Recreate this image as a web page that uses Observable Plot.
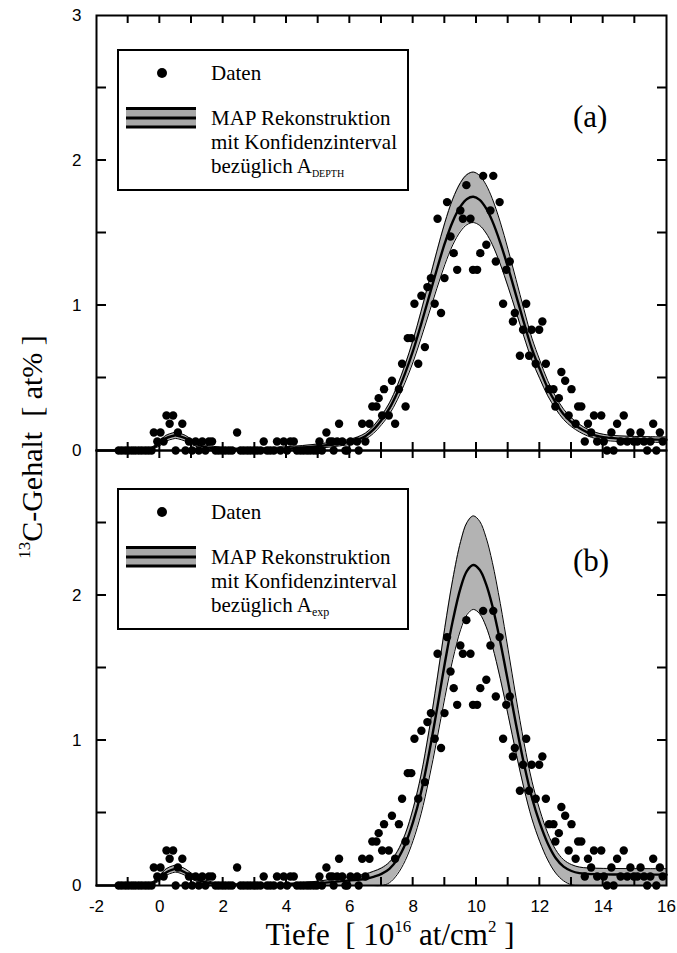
<!DOCTYPE html>
<html><head><meta charset="utf-8">
<script src="https://cdn.jsdelivr.net/npm/d3@7"></script>
<script src="https://cdn.jsdelivr.net/npm/@observablehq/plot@0.6"></script>
<style>
html,body{margin:0;padding:0;background:#fff;}
#wrap{position:relative;width:677px;height:953px;overflow:hidden;background:#fff;}
.serif{font-family:"Liberation Serif","Times New Roman",serif;}
</style></head><body><div id="wrap"></div>
<script>
// measured points (identical in both panels)
const dataX = [-1.30,-1.20,-1.09,-0.99,-0.88,-0.78,-0.67,-0.57,-0.46,-0.36,-0.26,-0.19,-0.08,0.02,0.12,0.21,0.31,0.42,0.50,0.57,0.71,0.81,0.92,1.02,1.13,1.23,1.34,1.44,1.55,1.65,1.76,1.86,1.97,2.07,2.18,2.28,2.44,2.55,2.65,2.76,2.86,2.97,3.07,3.18,3.28,3.39,3.49,3.60,3.70,3.81,3.91,4.02,4.12,4.23,4.33,4.44,4.54,4.65,4.75,4.86,4.96,5.04,5.12,5.26,5.37,5.45,5.49,5.60,5.66,5.76,5.86,5.92,6.02,6.23,6.28,6.39,6.49,6.62,6.71,6.84,6.91,7.02,7.08,7.23,7.33,7.43,7.55,7.65,7.76,7.83,7.94,8.04,8.16,8.26,8.37,8.45,8.56,8.68,8.77,8.88,8.99,9.07,9.18,9.28,9.39,9.49,9.57,9.68,9.81,9.89,10.02,10.12,10.21,10.31,10.44,10.53,10.61,10.73,10.84,10.94,11.05,11.15,11.21,11.37,11.47,11.57,11.66,11.74,11.87,11.98,12.08,12.19,12.29,12.43,12.49,12.60,12.68,12.80,12.91,13.00,13.13,13.21,13.31,13.42,13.52,13.62,13.71,13.81,13.94,14.02,14.12,14.26,14.33,14.44,14.55,14.65,14.76,14.86,14.97,15.08,15.18,15.29,15.39,15.49,15.58,15.68,15.79,15.88];
const dataY = [0,0,0,0,0,0,0,0,0,0,0,0.124,0.062,0.124,0.062,0.241,0.184,0.241,0,0.124,0.184,0,0.062,0,0.062,0,0.062,0,0.062,0.062,0,0,0,0,0,0,0.124,0,0,0,0,0,0,0,0.062,0,0,0,0.062,0,0.062,0,0.062,0.062,0,0,0,0,0,0,0,0.062,0,0.124,0.062,0.062,0,0.062,0.184,0.062,0,0,0.062,0.062,0,0.184,0.062,0.184,0.303,0.303,0.361,0.241,0.423,0.241,0.481,0.184,0.423,0.598,0.303,0.775,0.775,1.012,0.598,1.067,0.713,1.127,1.189,1.012,1.598,0.948,1.189,1.713,1.476,1.361,1.246,1.655,1.598,1.830,1.598,1.246,1.246,1.361,1.894,1.419,1.655,1.894,1.303,1.713,1.012,1.246,1.303,0.890,0.948,0.653,0.833,1.012,0.653,0.833,0.598,0.833,0.890,0.598,0.423,0.423,0.303,0.361,0.541,0.481,0.241,0.423,0.184,0.303,0.303,0.062,0.184,0.124,0.241,0.062,0.241,0.062,0,0.124,0,0.184,0.062,0.241,0.062,0.124,0.062,0.062,0.124,0.062,0,0.062,0.184,0,0.124,0.062];

// MAP reconstructions with confidence band
const curveX = [-2,-1.3,-0.8,-0.4,-0.2,0,0.2,0.4,0.5,0.6,0.8,1.0,1.2,1.4,1.7,2,2.5,3,3.5,4,4.5,5,5.5,6,6.25,6.5,6.75,7,7.25,7.5,7.75,8,8.25,8.5,8.75,9,9.25,9.5,9.7,9.9,10.1,10.3,10.5,10.75,11,11.25,11.5,11.75,12,12.25,12.5,12.75,13,13.25,13.5,13.75,14,14.5,15,15.5,16];
const aMid  = [0,0,0,0.005,0.02,0.05,0.085,0.10,0.105,0.10,0.085,0.06,0.04,0.025,0.015,0.01,0.008,0.008,0.01,0.013,0.02,0.03,0.043,0.06,0.075,0.10,0.145,0.21,0.29,0.40,0.535,0.69,0.87,1.06,1.25,1.43,1.58,1.685,1.735,1.75,1.728,1.671,1.582,1.434,1.259,1.07,0.88,0.70,0.56,0.43,0.33,0.25,0.195,0.155,0.125,0.105,0.092,0.082,0.078,0.076,0.074];
const aHigh = [0,0,0,0.006,0.03,0.067,0.105,0.121,0.126,0.121,0.105,0.077,0.056,0.039,0.028,0.02,0.016,0.016,0.02,0.026,0.034,0.045,0.059,0.077,0.094,0.121,0.17,0.241,0.328,0.448,0.595,0.764,0.96,1.167,1.375,1.571,1.734,1.849,1.903,1.92,1.896,1.833,1.736,1.575,1.384,1.178,0.971,0.775,0.622,0.481,0.372,0.285,0.225,0.181,0.148,0.126,0.112,0.101,0.097,0.095,0.093];
const aLow  = [0,0,0,0.004,0.012,0.033,0.065,0.079,0.083,0.079,0.065,0.042,0.024,0.011,0.004,0.002,0.001,0.001,0.002,0.003,0.006,0.015,0.027,0.042,0.056,0.079,0.119,0.178,0.25,0.35,0.472,0.612,0.775,0.947,1.119,1.282,1.418,1.513,1.558,1.572,1.552,1.5,1.42,1.286,1.127,0.956,0.784,0.622,0.495,0.377,0.287,0.214,0.164,0.128,0.101,0.083,0.071,0.062,0.059,0.057,0.055];
const bMid  = [0,0,0,0.005,0.02,0.05,0.09,0.11,0.115,0.11,0.09,0.065,0.04,0.025,0.012,0.008,0.005,0.005,0.006,0.008,0.01,0.015,0.025,0.035,0.04,0.045,0.06,0.08,0.115,0.18,0.285,0.44,0.643,0.91,1.213,1.534,1.825,2.055,2.17,2.21,2.177,2.08,1.929,1.681,1.399,1.109,0.838,0.605,0.43,0.29,0.19,0.13,0.10,0.085,0.08,0.078,0.077,0.076,0.075,0.075,0.075];
const bHigh = [0,0,0,0.006,0.03,0.07,0.115,0.135,0.14,0.135,0.115,0.085,0.058,0.04,0.022,0.015,0.01,0.01,0.012,0.015,0.02,0.03,0.045,0.06,0.07,0.08,0.098,0.121,0.161,0.235,0.355,0.532,0.763,1.067,1.413,1.779,2.111,2.373,2.504,2.549,2.512,2.401,2.229,1.946,1.625,1.294,0.985,0.72,0.52,0.361,0.247,0.178,0.144,0.127,0.121,0.119,0.118,0.117,0.116,0.116,0.116];
const bLow  = [0,0,0,0,0.01,0.035,0.07,0.088,0.092,0.088,0.07,0.045,0.025,0.01,0,0,0,0,0,0,0,0,0,0,0,0,0,0,0.019,0.077,0.172,0.311,0.494,0.734,1.007,1.296,1.558,1.765,1.868,1.904,1.874,1.787,1.651,1.428,1.174,0.913,0.669,0.46,0.302,0.176,0.086,0.032,0.005,0,0,0,0,0,0,0,0];

const xLabelTicks = [-2,0,2,4,6,8,10,12,14,16];
const xMinorTicks = [-1,0,1,2,3,4,5,6,7,8,9,10,11,12,13,14,15];
const yMinorTicks = [0.5,1,1.5,2,2.5];
const yLabelsA = [0,1,2,3];
const yLabelsB = [0,1,2];
const panelTags = ["(a)","(b)"];
const legendData = "Daten";
const legendLines = ["MAP Rekonstruktion","mit Konfidenzinterval","bezüglich A"];
const legendSubs = ["DEPTH","exp"];
const yTitle = ["13", "C-Gehalt\u00a0 [ at% ]"];
const xTitle = ["Tiefe\u00a0 [ 10", "16", " at/cm", "2", " ]"];

const GREY = "#b3b3b3";
const pts = dataX.map((x,i)=>({x, y: dataY[i]}));

function panel(mid, low, high, yLabels, showX, height, mTop, mBottom) {
  const rows = curveX.map((x,i)=>({x, mid: mid[i], low: low[i], high: high[i]}));
  return Plot.plot({
    width: 677, height,
    marginLeft: 96, marginRight: 11, marginTop: mTop, marginBottom: mBottom,
    style: {background: "none", fontFamily: "'Liberation Sans', Arial, sans-serif", fontSize: "17px", color: "black", overflow: "visible"},
    x: {domain: [-2,16], ticks: showX ? xLabelTicks : [], tickSize: 0, tickPadding: 14, label: null, tickFormat: d => String(d), axis: showX ? "bottom" : null},
    y: {domain: [0,3], ticks: yLabels, tickSize: 0, tickPadding: 15, label: null, tickFormat: d => String(d)},
    marks: [
      Plot.areaY(rows, {x: "x", y1: "low", y2: "high", fill: GREY, curve: "catmull-rom"}),
      Plot.line(rows, {x: "x", y: "high", stroke: "black", strokeWidth: 1, curve: "catmull-rom"}),
      Plot.line(rows, {x: "x", y: "low", stroke: "black", strokeWidth: 1, curve: "catmull-rom"}),
      Plot.line(rows, {x: "x", y: "mid", stroke: "black", strokeWidth: 2.4, curve: "catmull-rom"}),
      Plot.frame({stroke: "black", strokeWidth: 2}),
      Plot.dot(pts, {x: "x", y: "y", r: 4.2, fill: "black", stroke: null})
    ]
  });
}

const wrap = document.getElementById("wrap");
const pa = panel(aMid, aLow, aHigh, yLabelsA, false, 455, 15, 5);
pa.style.position = "absolute"; pa.style.left = "0px"; pa.style.top = "0px";
wrap.appendChild(pa);
const pb = panel(bMid, bLow, bHigh, yLabelsB, true, 508, 5, 68);
pb.style.position = "absolute"; pb.style.left = "0px"; pb.style.top = "445px";
wrap.appendChild(pb);

const NS = "http://www.w3.org/2000/svg";
const ov = document.createElementNS(NS, "svg");
ov.setAttribute("width", 677); ov.setAttribute("height", 953);
ov.style.position = "absolute"; ov.style.left = "0px"; ov.style.top = "0px";
wrap.appendChild(ov);

function el(tag, attrs, parent) {
  const e = document.createElementNS(NS, tag);
  for (const k in attrs) e.setAttribute(k, attrs[k]);
  if (tag === "text") { e.setAttribute("class", "serif"); e.style.fontFamily = '"Liberation Serif"'; }
  (parent || ov).appendChild(e);
  return e;
}

// inward ticks through each plot's scales
function ticks(plot, offset) {
  const sx = plot.scale("x"), sy = plot.scale("y");
  const xl = sx.apply(-2), xr = sx.apply(16), yb = sy.apply(0), ytp = sy.apply(3);
  for (const v of yMinorTicks) {
    const y = sy.apply(v) + offset;
    el("line", {x1: xl, x2: xl + 10, y1: y, y2: y, stroke: "#000", "stroke-width": 2});
    el("line", {x1: xr - 9, x2: xr, y1: y, y2: y, stroke: "#000", "stroke-width": 2});
  }
  for (const v of xMinorTicks) {
    const x = sx.apply(v);
    el("line", {x1: x, x2: x, y1: yb + offset, y2: yb + offset - 8, stroke: "#000", "stroke-width": 2});
    el("line", {x1: x, x2: x, y1: ytp + offset, y2: ytp + offset + 8, stroke: "#000", "stroke-width": 2});
  }
}
ticks(pa, 0);
ticks(pb, 445);

function legend(dy, sub, tagY, tag) {
  const g = el("g", {transform: `translate(0,${dy})`});
  el("rect", {x: 118, y: 50, width: 290, height: 140, fill: "white", stroke: "black", "stroke-width": 2}, g);
  el("circle", {cx: 162, cy: 73, r: 5, fill: "black"}, g);
  el("rect", {x: 126, y: 108, width: 70, height: 19, fill: "#a8a8a8"}, g);
  for (const yy of [108.5, 118, 127]) el("line", {x1: 126, x2: 196, y1: yy, y2: yy, stroke: "black", "stroke-width": 3}, g);
  const t0 = el("text", {x: 211, y: 80, "font-size": 21}, g); t0.textContent = legendData;
  const ys = [125, 149, 173];
  legendLines.forEach((s, i) => {
    const t = el("text", {x: 211, y: ys[i], "font-size": 21}, g);
    t.textContent = s;
    if (i === 2) {
      const ts = el("tspan", {"font-size": sub === "DEPTH" ? 10 : 12, dy: 4}, t);
      ts.textContent = sub;
    }
  });
  const tg = el("text", {x: 573, y: tagY, "font-size": 31});
  tg.textContent = tag;
}
legend(0, legendSubs[0], 127, panelTags[0]);
legend(439, legendSubs[1], 571, panelTags[1]);

const yt = el("text", {transform: "translate(42,447) rotate(-90)", "text-anchor": "middle", "font-size": 30});
const y1 = el("tspan", {"font-size": 17, dy: -12}, yt); y1.textContent = yTitle[0];
const y2 = el("tspan", {dy: 12}, yt); y2.textContent = yTitle[1];

const xt = el("text", {x: 390, y: 945, "text-anchor": "middle", "font-size": 31});
[0,1,2,3,4].forEach(i => {
  const sup = i === 1 || i === 3;
  const ts = el("tspan", sup ? {"font-size": 17, dy: -13} : (i === 0 ? {} : {dy: 13}), xt);
  ts.textContent = xTitle[i];
});
</script>
</body></html>
